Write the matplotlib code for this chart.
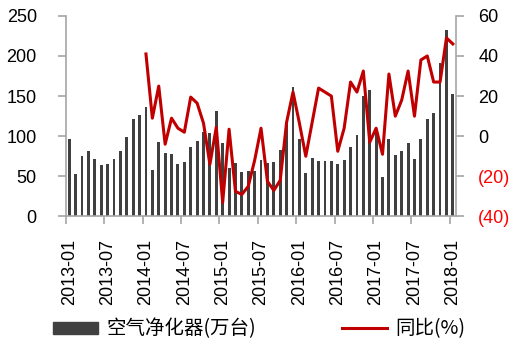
import matplotlib.pyplot as plt
from matplotlib.patches import Patch
from matplotlib.lines import Line2D
import numpy as np
import pandas as pd

plt.rcParams['font.family'] = ['Liberation Sans', 'Noto Sans CJK SC', 'DejaVu Sans']

# monthly data 2013-01 .. 2018-01
months = pd.date_range('2013-01-01', '2018-01-01', freq='MS').strftime('%Y-%m').tolist()

sales = [96, 53, 75, 82, 71, 64, 66, 72, 81, 99, 122, 126,
         137, 58, 93, 79, 78, 66, 68, 86, 94, 105, 104, 132,
         92, 60, 67, 56, 57, 57, 70, 67, 68, 83, 118, 161,
         97, 54, 73, 69, 69, 69, 65, 70, 87, 101, 150, 157,
         107, 49, 96, 77, 82, 92, 71, 97, 122, 129, 191, 232,
         153]

# yoy starts at 2014-01
yoy = [41, 9, 25, -4, 9, 4, 2, 19.5, 16.5, 6.5, -14, 4.5,
       -33, 3.5, -27.5, -29, -25, -12, 4, -22.5, -27, -22, 7, 22,
       6.5, -10, 7, 24, 22, 20, -7.5, 4, 27, 22, 32.5, -3,
       4, -9, 31, 10, 18, 32.5, 10, 38, 40, 27, 27, 49,
       46]

bar_color = '#404040'
line_color = '#C00000'
spine_color = '#A6A6A6'

fig = plt.figure(figsize=(5.2, 3.52), dpi=100)
ax = fig.add_axes([0.127, 0.385, 0.75, 0.57])
x = np.arange(len(months))
ax.bar(x, sales, width=0.45, color=bar_color)
ax.set_xlim(-0.5, len(months) - 0.5)
ax.set_ylim(0, 250)
ax.set_yticks(range(0, 251, 50))

ax2 = ax.twinx()
ax2.plot(x[12:], yoy, color=line_color, lw=2.2)
ax2.set_ylim(-40, 60)
ax2.set_yticks(range(-40, 61, 20))
ax2.set_yticklabels(['(40)', '(20)', '0', '20', '40', '60'])
for lab, v in zip(ax2.get_yticklabels(), range(-40, 61, 20)):
    if v < 0:
        lab.set_color('red')

# tick marks on category boundaries, labels on category centres
ax.set_xticks(np.arange(-0.5, len(months) - 1, 6))
ax.set_xticklabels([])
ax.set_xticks(x[::6], minor=True)
ax.set_xticklabels(months[::6], minor=True, rotation=90, fontsize=13)
ax.tick_params(axis='x', which='minor', length=0, pad=16)
ax.tick_params(axis='x', which='major', length=6, color=spine_color, width=1.2)

ax.tick_params(axis='y', labelsize=13, length=6, color=spine_color, width=1.2, pad=15)
ax2.tick_params(axis='y', labelsize=13, length=6, color=spine_color, width=1.2, pad=10)

for a in (ax, ax2):
    a.spines['top'].set_visible(False)
    for s in ('left', 'right', 'bottom'):
        a.spines[s].set_color(spine_color)
        a.spines[s].set_linewidth(1.2)
ax.spines['right'].set_visible(False)
ax2.spines['left'].set_visible(False)
ax2.spines['bottom'].set_visible(False)

leg_font = {'family': ['Noto Sans CJK SC', 'DejaVu Sans'], 'size': 14}
leg_kw = dict(loc='center left', frameon=False, prop=leg_font, borderpad=0,
              borderaxespad=0, handlelength=2.3, handleheight=0.6, handletextpad=0.45)
fig.legend([Patch(color=bar_color)], ['空气净化器(万台)'],
           bbox_to_anchor=(53 / 520, 0.065), **leg_kw)
fig.legend([Line2D([0], [0], color=line_color, lw=2.2)], ['同比(%)'],
           bbox_to_anchor=(342 / 520, 0.065), **leg_kw)

fig.savefig('out.png', dpi=100)
